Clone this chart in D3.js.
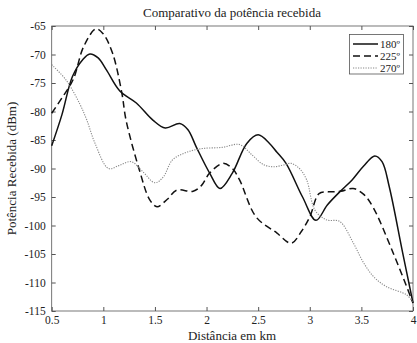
<!DOCTYPE html>
<html><head><meta charset="utf-8">
<script src="https://cdn.jsdelivr.net/npm/d3@7"></script>
<style>body{margin:0;background:#fff}svg{display:block}text{font-family:"Liberation Serif","DejaVu Serif",serif;fill:#222}</style>
</head><body><svg id="c" width="417" height="343"></svg>
<script>
const xTicks = [0.5,1,1.5,2,2.5,3,3.5,4];
const yTicks = [-65,-70,-75,-80,-85,-90,-95,-100,-105,-110,-115];
const dist180 = [0.5,0.6,0.7,0.8,0.87,0.95,1.03,1.16,1.32,1.48,1.6,1.74,1.82,1.9,2.03,2.13,2.25,2.39,2.5,2.61,2.68,2.77,2.93,3.06,3.17,3.29,3.41,3.52,3.63,3.7,3.77,3.9,4.0];
const val180 = [-86,-80.5,-73.9,-70.9,-69.9,-70.6,-72.7,-76.4,-78.5,-81.5,-82.9,-82.1,-83.2,-86.2,-90.8,-93.5,-90.8,-85.6,-84.1,-85.6,-87.1,-89.1,-95,-99.1,-96.4,-94.1,-92,-89.6,-87.8,-88.8,-93.2,-104.8,-113.6];
const dist225 = [0.5,0.6,0.71,0.81,0.93,1.0,1.09,1.18,1.22,1.35,1.45,1.52,1.62,1.71,1.87,1.95,2.03,2.16,2.25,2.32,2.48,2.68,2.82,2.92,3.0,3.09,3.18,3.3,3.42,3.52,3.61,3.81,4.0];
const val225 = [-80.3,-77.6,-74.3,-68.6,-65.5,-66.4,-69.8,-76.8,-81.5,-90.3,-95.5,-96.7,-95.4,-93.8,-94,-93,-90.8,-89.1,-90,-92,-98.5,-101.3,-103.1,-101,-98.5,-94.4,-94.1,-94,-93.5,-94.5,-96.7,-104.9,-113.6];
const dist270 = [0.5,0.64,0.77,0.84,0.92,1.05,1.15,1.27,1.38,1.5,1.58,1.67,1.8,1.96,2.15,2.32,2.44,2.55,2.65,2.74,2.82,2.9,2.97,3.05,3.16,3.29,3.42,3.52,3.62,3.74,3.94,4.0];
const val270 = [-71.8,-74.5,-78.6,-81.5,-85.6,-90,-89.5,-88.8,-90.5,-92.5,-91.5,-88.5,-87.2,-86.5,-86.3,-85.8,-87.6,-89.3,-89.7,-89.4,-89.1,-90,-92,-97.3,-99,-99.3,-103,-106.5,-109,-110.7,-112.2,-113.5];
const seriesNames = ["180º","225º","270º"];

const svg = d3.select("#c");
const L=51.7, R=413, T=26, B=311;
const x = d3.scaleLinear().domain([0.5,4]).range([L,R]);
const y = d3.scaleLinear().domain([-115,-65]).range([B,T]);

const tick = 4;
const gx = svg.append("g").attr("transform",`translate(0,${B})`)
  .call(d3.axisBottom(x).tickValues(xTicks).tickSize(-tick).tickPadding(5).tickFormat(d=>String(d)));
const gxt = svg.append("g").attr("transform",`translate(0,${T})`)
  .call(d3.axisTop(x).tickValues(xTicks).tickSize(-tick).tickFormat(""));
const gy = svg.append("g").attr("transform",`translate(${L},0)`)
  .call(d3.axisLeft(y).tickValues(yTicks).tickSize(-tick).tickPadding(6).tickFormat(d=>String(d)));
const gyr = svg.append("g").attr("transform",`translate(${R},0)`)
  .call(d3.axisRight(y).tickValues(yTicks).tickSize(-tick).tickFormat(""));
[gx,gxt,gy,gyr].forEach(g=>{
  g.select(".domain").remove();
  g.selectAll("line").attr("stroke","#555");
  g.selectAll("text").style("font-family","'Liberation Serif',serif").style("font-size","11.5px").attr("fill","#333");
});
svg.append("rect").attr("x",L).attr("y",T).attr("width",R-L).attr("height",B-T)
  .attr("fill","none").attr("stroke","#555").attr("stroke-width",0.8);

const line = d3.line().x(d=>x(d[0])).y(d=>y(d[1])).curve(d3.curveCatmullRom.alpha(0.5));
const styles = [
  {stroke:"#111", dash:null, w:1.5},
  {stroke:"#111", dash:"7,4", w:1.5},
  {stroke:"#888", dash:"1.2,1.3", w:1.1}
];
const data = [
  d3.zip(dist180,val180), d3.zip(dist225,val225), d3.zip(dist270,val270)
];
data.forEach((d,i)=>{
  svg.append("path").datum(d).attr("d",line).attr("fill","none")
    .attr("stroke",styles[i].stroke).attr("stroke-width",styles[i].w)
    .attr("stroke-dasharray",styles[i].dash);
});

const lg = svg.append("g");
lg.append("rect").attr("x",349.5).attr("y",34.5).attr("width",54).attr("height",39.5)
  .attr("fill","#fff").attr("stroke","#555").attr("stroke-width",0.8);
seriesNames.forEach((n,i)=>{
  const yy = 44 + i*12;
  lg.append("line").attr("x1",353).attr("x2",378).attr("y1",yy).attr("y2",yy)
    .attr("stroke",styles[i].stroke).attr("stroke-width",styles[i].w).attr("stroke-dasharray",styles[i].dash);
  lg.append("text").attr("x",380).attr("y",yy+4).text(n).style("font-size","11px");
});

svg.append("text").attr("x",232).attr("y",17).attr("text-anchor","middle").style("font-size","13px").text("Comparativo da potência recebida");
svg.append("text").attr("x",232).attr("y",340).attr("text-anchor","middle").style("font-size","13px").text("Distância em km");
svg.append("text").attr("transform",`translate(16,${(T+B)/2}) rotate(-90)`).attr("text-anchor","middle").style("font-size","13px").text("Potência Recebida (dBm)");
</script></body></html>
